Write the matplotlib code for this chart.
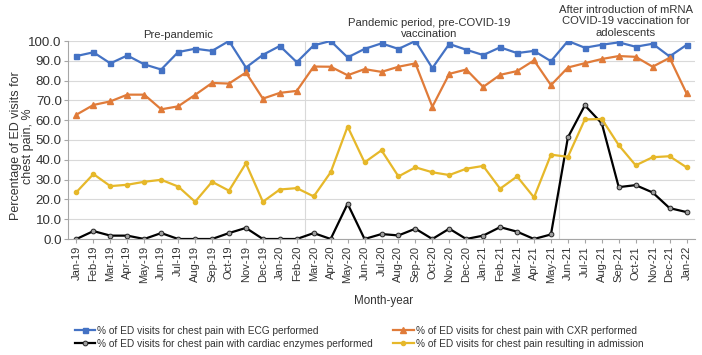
import matplotlib
matplotlib.use('Agg')
import matplotlib.pyplot as plt
import matplotlib.ticker as ticker
import numpy as np

plt.rcParams['font.family'] = ['Liberation Sans', 'DejaVu Sans']

months = ['Jan-19', 'Feb-19', 'Mar-19', 'Apr-19', 'May-19', 'Jun-19', 'Jul-19', 'Aug-19',
          'Sep-19', 'Oct-19', 'Nov-19', 'Dec-19', 'Jan-20', 'Feb-20', 'Mar-20', 'Apr-20',
          'May-20', 'Jun-20', 'Jul-20', 'Aug-20', 'Sep-20', 'Oct-20', 'Nov-20', 'Dec-20',
          'Jan-21', 'Feb-21', 'Mar-21', 'Apr-21', 'May-21', 'Jun-21', 'Jul-21', 'Aug-21',
          'Sep-21', 'Oct-21', 'Nov-21', 'Dec-21', 'Jan-22']

ecg = [92.4, 94.3, 88.7, 92.7, 88.2, 85.6, 94.4, 96.1, 95.0, 100.0, 86.6, 93.0, 97.5,
       89.3, 97.8, 100.0, 91.7, 96.0, 98.8, 96.0, 100.0, 86.3, 98.5, 95.6, 92.9, 96.8,
       93.9, 95.0, 89.8, 100.0, 96.6, 98.1, 99.3, 97.1, 98.6, 92.2, 98.0]

cxr = [62.8, 67.7, 69.5, 72.9, 72.9, 65.5, 67.0, 72.8, 78.8, 78.5, 84.1, 70.9, 73.8,
       74.8, 87.1, 87.0, 82.7, 85.8, 84.4, 87.0, 88.7, 66.8, 83.4, 85.6, 76.8, 82.9,
       84.8, 90.2, 77.7, 86.6, 88.8, 90.9, 92.4, 92.0, 87.0, 91.5, 73.6]

enzymes = [0.0, 4.0, 1.7, 1.7, 0.0, 3.0, 0.0, 0.0, 0.0, 3.0, 5.6, 0.0, 0.0,
           0.0, 3.0, 0.0, 17.8, 0.0, 2.5, 1.8, 5.2, 0.0, 5.2, 0.0, 1.7, 6.0,
           3.7, 0.0, 2.3, 51.3, 67.5, 58.4, 26.2, 27.2, 23.5, 15.6, 13.6]

admission = [23.7, 32.8, 26.7, 27.4, 28.9, 29.9, 26.5, 18.8, 28.9, 24.4, 38.2, 18.8, 25.0,
             25.7, 21.5, 33.7, 56.8, 38.7, 44.8, 31.6, 36.2, 33.7, 32.3, 35.5, 36.9, 25.4,
             31.6, 21.0, 42.6, 41.5, 60.4, 60.6, 47.4, 37.2, 41.3, 41.8, 36.2]

period_breaks = [13.5, 28.5]
period_labels = ['Pre-pandemic',
                 'Pandemic period, pre-COVID-19\nvaccination',
                 'After introduction of mRNA\nCOVID-19 vaccination for\nadolescents']

text_col = '#333333'
axis_col = '#a6a6a6'

fig = plt.figure(figsize=(7.02, 3.55), dpi=100)
ax = fig.add_axes([68 / 702, 1 - 239 / 355, 627 / 702, 198 / 355])

x = np.arange(len(months))

l_ecg, = ax.plot(x, ecg, color='#4472c4', lw=1.6, marker='s', ms=3.6,
                 label='% of ED visits for chest pain with ECG performed')
l_cxr, = ax.plot(x, cxr, color='#e07b39', lw=1.6, marker='^', ms=3.8,
                 label='% of ED visits for chest pain with CXR performed')
l_enz, = ax.plot(x, enzymes, color='black', lw=1.6, marker='o', ms=3.4,
                 mfc='#a0a0a0', mec='#222222', mew=0.7,
                 label='% of ED visits for chest pain with cardiac enzymes performed')
l_adm, = ax.plot(x, admission, color='#e6b82a', lw=1.6, marker='o', ms=3.0,
                 label='% of ED visits for chest pain resulting in admission')

for b in period_breaks:
    ax.axvline(b, color='#d9d9d9', lw=0.8, zorder=0)

ax.set_xlim(-0.5, len(months) - 0.5)
ax.set_ylim(0, 100)
ax.yaxis.set_major_locator(ticker.MultipleLocator(10))
ax.yaxis.set_major_formatter(ticker.FormatStrFormatter('%.1f'))
ax.grid(axis='y', color='#d9d9d9', lw=0.8)
ax.set_axisbelow(True)

ax.set_xticks(x)
ax.set_xticklabels(months, rotation=90, fontsize=8, color=text_col)
ax.tick_params(axis='y', labelsize=9.6, labelcolor=text_col, color=axis_col,
               length=3, pad=1.5)
ax.tick_params(axis='x', color=axis_col, length=3, pad=2)

for side in ['top', 'right']:
    ax.spines[side].set_visible(False)
for side in ['left', 'bottom']:
    ax.spines[side].set_color(axis_col)
    ax.spines[side].set_linewidth(0.8)

# period annotations above the plot
ax.text(6.0, 103.2, period_labels[0], ha='center', va='center', fontsize=8.1,
        color=text_col, clip_on=False)
ax.text(20.8, 106.5, period_labels[1], ha='center', va='center', fontsize=8.1,
        color=text_col, clip_on=False, linespacing=1.15)
ax.text(32.4, 109.9, period_labels[2], ha='center', va='center', fontsize=8.1,
        color=text_col, clip_on=False, linespacing=1.15)

fig.text(22 / 702, 1 - 146 / 355, 'Percentage of ED visits for\nchest pain, %',
         rotation=90, ha='center', va='center', fontsize=9.0, color=text_col,
         linespacing=1.1)
fig.text(384 / 702, 1 - 300.7 / 355, 'Month-year', ha='center', va='center',
         fontsize=8.4, color=text_col)

fig.legend(handles=[l_ecg, l_enz, l_cxr, l_adm], ncol=2, frameon=False,
           loc='upper left', bbox_to_anchor=(75 / 702, 1 - 326 / 355),
           borderaxespad=0, borderpad=0, fontsize=7.3, handlelength=2.0,
           handletextpad=0.2, columnspacing=2.0, labelspacing=0.25,
           labelcolor=text_col)

fig.savefig('out.png', dpi=100)
plt.close(fig)
